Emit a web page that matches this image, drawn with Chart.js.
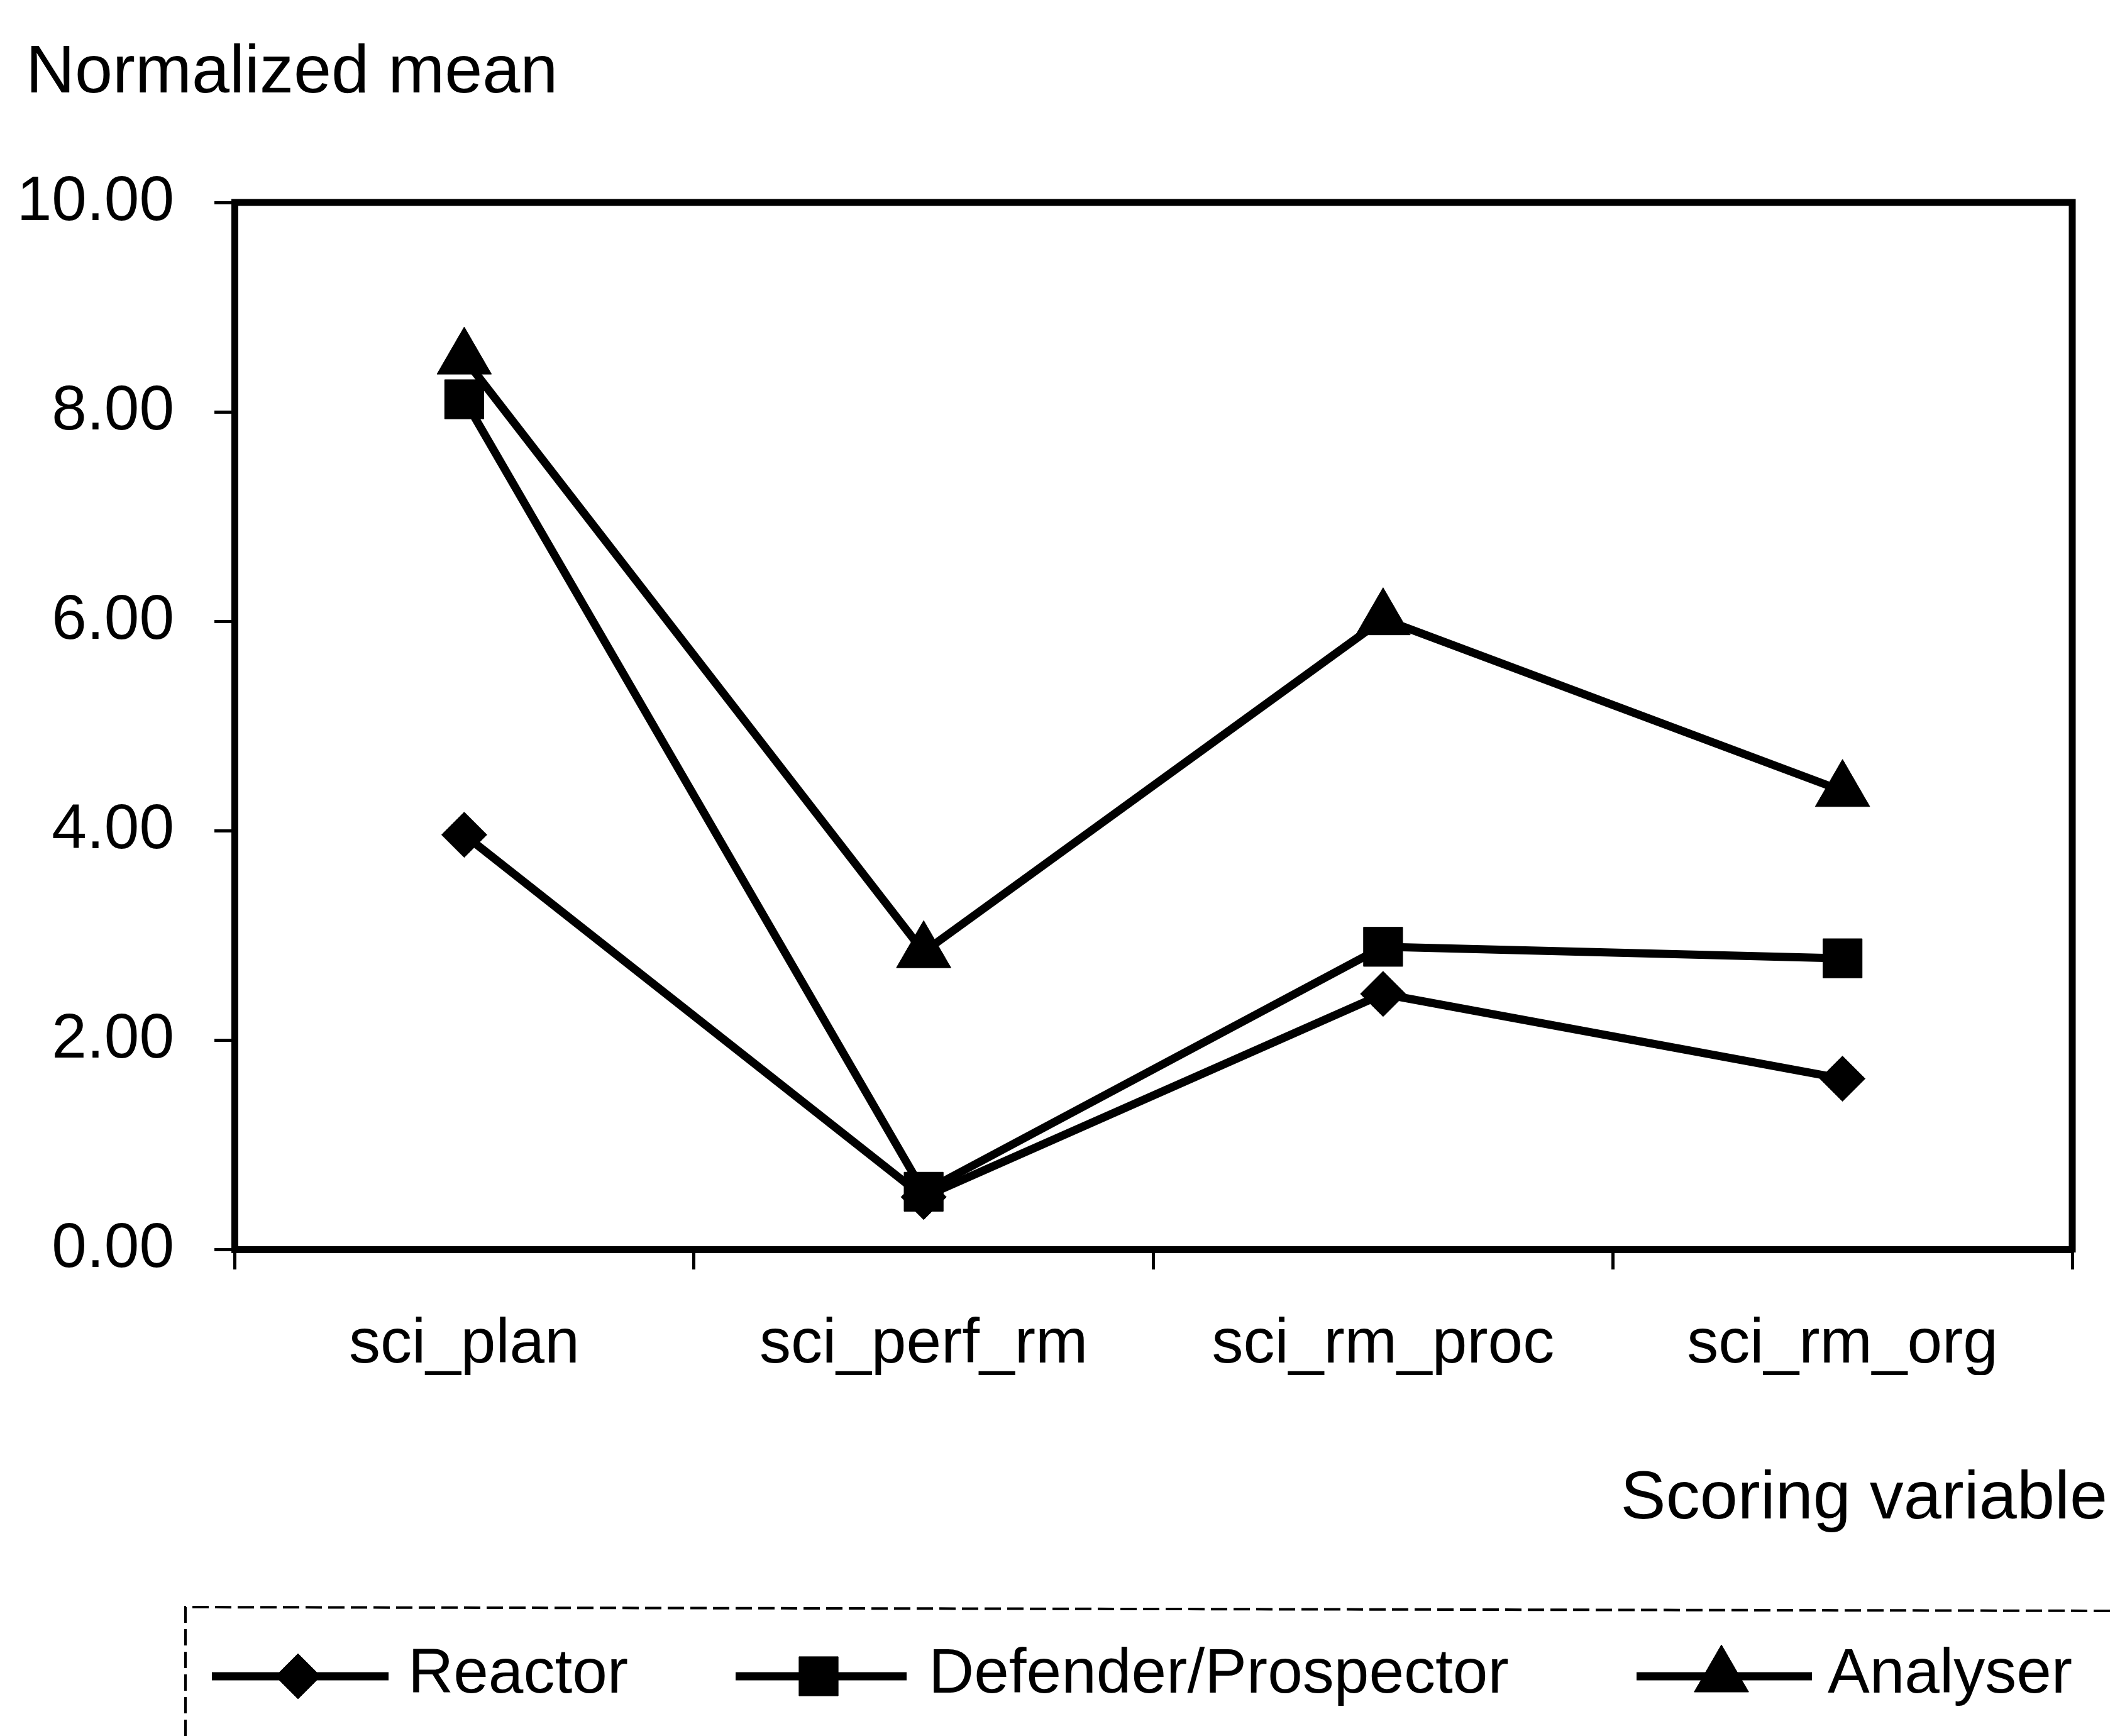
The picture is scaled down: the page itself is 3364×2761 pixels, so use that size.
<!DOCTYPE html>
<html lang="en">
<head>
  <meta charset="UTF-8" />
  <title>Normalized mean by scoring variable</title>
  <script src="https://cdn.jsdelivr.net/npm/chart.js"></script>
  <style>
    html, body { margin: 0; padding: 0; background: #fff; }
    #wrap { width: 3364px; height: 2761px; }
  </style>
</head>
<body>
  <div id="wrap"><canvas id="meanChart" width="3364" height="2761"></canvas></div>

  <script>
    // values
    const categories = ['sci_plan', 'sci_perf_rm', 'sci_rm_proc', 'sci_rm_org'];
    const seriesNames = ['Reactor', 'Defender/Prospector', 'Analyser'];
    const reactor = [3.96, 0.50, 2.44, 1.63];
    const defenderProspector = [8.12, 0.55, 2.89, 2.78];
    const analyser = [8.51, 2.84, 6.02, 4.38];
    const yTicks = [0, 2, 4, 6, 8, 10];
    const yTitle = 'Normalized mean';
    const xTitle = 'Scoring variable';

    const FONT = '"Liberation Sans", Arial, Helvetica, sans-serif';
    Chart.defaults.font.family = FONT;
    Chart.defaults.color = '#000';

    function drawMarker(ctx, style, r, x, y) {
      const opts = { pointStyle: style, radius: r, rotation: 0, borderWidth: 1 };
      if (Chart.helpers && Chart.helpers.drawPoint) {
        Chart.helpers.drawPoint(ctx, opts, x, y);
        return;
      }
      ctx.beginPath();
      if (style === 'triangle') {
        ctx.moveTo(x, y - r);
        ctx.lineTo(x + r * 0.866, y + r / 2);
        ctx.lineTo(x - r * 0.866, y + r / 2);
      } else if (style === 'rect') {
        const s = r * Math.SQRT1_2;
        ctx.rect(x - s, y - s, 2 * s, 2 * s);
      } else {
        ctx.moveTo(x - r, y); ctx.lineTo(x, y - r); ctx.lineTo(x + r, y); ctx.lineTo(x, y + r);
      }
      ctx.closePath();
      ctx.fill();
      ctx.stroke();
    }

    // frame, free-floating titles and the line+marker legend of the original
    const decorations = {
      id: 'decorations',
      afterDraw(chart) {
        const { ctx, chartArea } = chart;
        ctx.save();
        ctx.strokeStyle = '#000';
        ctx.fillStyle = '#000';

        // top and right sides of the plot box
        ctx.lineWidth = 11;
        ctx.beginPath();
        ctx.moveTo(chartArea.left - 5, chartArea.top);
        ctx.lineTo(chartArea.right, chartArea.top);
        ctx.lineTo(chartArea.right, chartArea.bottom + 5);
        ctx.stroke();

        ctx.font = '108px ' + FONT;
        ctx.textBaseline = 'alphabetic';
        ctx.textAlign = 'left';
        ctx.fillText(yTitle, 41, 147);
        ctx.textAlign = 'right';
        ctx.fillText(xTitle, 3352, 2415);

        // legend box (dashed, open to the right and bottom)
        ctx.lineWidth = 4;
        ctx.setLineDash([26, 10]);
        ctx.beginPath();
        ctx.moveTo(295, chart.height);
        ctx.lineTo(295, 2556);
        ctx.lineTo(chart.width, 2562);
        ctx.stroke();
        ctx.setLineDash([]);

        const lineSpan = [[337, 618], [1170, 1442], [2603, 2882]];
        const markerX = [474, 1302, 2738];
        const textX = [649, 1477, 2907];
        const ly = 2666;
        ctx.font = '100px ' + FONT;
        ctx.textAlign = 'left';
        chart.data.datasets.forEach((ds, i) => {
          ctx.lineWidth = 13;
          ctx.beginPath();
          ctx.moveTo(lineSpan[i][0], ly);
          ctx.lineTo(lineSpan[i][1], ly);
          ctx.stroke();
          ctx.lineWidth = 1;
          drawMarker(ctx, ds.pointStyle, ds.pointRadius, markerX[i], ly);
          ctx.fillText(ds.label, textX[i], ly + 26);
        });
        ctx.restore();
      }
    };

    function series(label, data, style, r) {
      return {
        label: label,
        data: data,
        borderColor: '#000',
        backgroundColor: '#000',
        borderWidth: 13,
        tension: 0,
        fill: false,
        pointStyle: style,
        pointRadius: r,
        pointBackgroundColor: '#000',
        pointBorderColor: '#000',
        pointBorderWidth: 1,
        clip: false
      };
    }

    const ctx = document.getElementById('meanChart').getContext('2d');
    new Chart(ctx, {
      type: 'line',
      data: {
        labels: categories,
        datasets: [
          series(seriesNames[0], reactor, 'rectRot', 36),
          series(seriesNames[1], defenderProspector, 'rect', 44),
          series(seriesNames[2], analyser, 'triangle', 50)
        ]
      },
      options: {
        responsive: false,
        animation: false,
        layout: { padding: { top: 322, left: 0, right: 68, bottom: 574 } },
        plugins: {
          legend: { display: false },
          tooltip: { enabled: false }
        },
        scales: {
          x: {
            offset: true,
            afterFit: s => { s.height = 200; },
            grid: {
              offset: true,
              drawOnChartArea: false,
              drawTicks: true,
              tickLength: 32,
              color: '#000',
              lineWidth: 5
            },
            border: { color: '#000', width: 11 },
            ticks: { font: { size: 100 }, color: '#000', padding: 60, maxRotation: 0 }
          },
          y: {
            min: 0,
            max: 10,
            afterFit: s => { s.width = 373; },
            afterBuildTicks: s => { s.ticks = yTicks.map(v => ({ value: v })); },
            grid: {
              drawOnChartArea: false,
              drawTicks: true,
              tickLength: 32,
              color: '#000',
              lineWidth: 5
            },
            border: { color: '#000', width: 11 },
            ticks: {
              font: { size: 100 },
              color: '#000',
              padding: 64,
              callback: v => Number(v).toFixed(2)
            }
          }
        }
      },
      plugins: [decorations]
    });
  </script>
</body>
</html>
